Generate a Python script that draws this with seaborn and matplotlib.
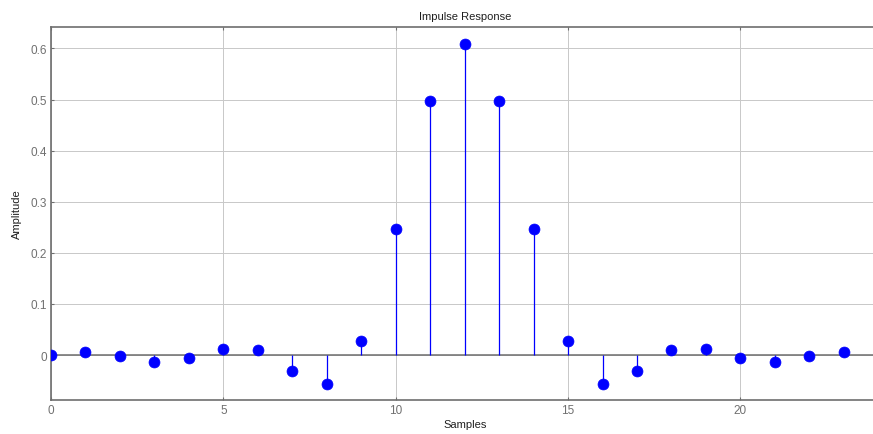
import matplotlib
matplotlib.use("Agg")
import matplotlib.pyplot as plt
import seaborn as sns
import pandas as pd

# Impulse response of the FIR filter (sample index and amplitude)
samples = list(range(24))
amplitude = [0.0, 0.006, -0.002, -0.013, -0.006, 0.012, 0.010, -0.032,
             -0.057, 0.028, 0.247, 0.498, 0.608, 0.498, 0.247, 0.028,
             -0.057, -0.032, 0.010, 0.012, -0.006, -0.013, -0.002, 0.006]
x_ticks = [0, 5, 10, 15, 20]
y_ticks = [0.0, 0.1, 0.2, 0.3, 0.4, 0.5, 0.6]
y_tick_labels = ["0", "0.1", "0.2", "0.3", "0.4", "0.5", "0.6"]

df = pd.DataFrame({"Samples": samples, "Amplitude": amplitude})

sns.set_theme(style="white")
plt.rcParams["font.family"] = ["Liberation Sans", "DejaVu Sans"]

fig = plt.figure(figsize=(8.73, 4.35), dpi=100)
ax = fig.add_axes([0.0584, 0.078, 0.95, 0.8576])

frame_color = "#6e6e6e"
grid_color = "#c8c8c8"

ax.set_xlim(0, 24.06)
ax.set_ylim(-0.088, 0.642)
ax.set_xticks(x_ticks)
ax.set_yticks(y_ticks)
ax.set_yticklabels(y_tick_labels)
ax.grid(True, color=grid_color, linewidth=0.7)
ax.set_axisbelow(True)

# baseline and stems
ax.axhline(0, color=frame_color, linewidth=1.1, zorder=2)
ax.vlines(df["Samples"], 0, df["Amplitude"], color="#0000ff", linewidth=0.9, zorder=3)
sns.scatterplot(data=df, x="Samples", y="Amplitude", ax=ax, color="#0000ff",
                s=62, edgecolor="#0000ff", linewidth=0.5, zorder=4, legend=False)

for side in ["left", "bottom", "top", "right"]:
    ax.spines[side].set_color(frame_color)
    ax.spines[side].set_linewidth(1.2)
    ax.spines[side].set_visible(True)

ax.tick_params(axis="both", direction="in", length=2.5, width=0.8, color=frame_color,
               labelcolor="#707070", labelsize=8.5, top=True, right=True,
               bottom=True, left=True, pad=3)

ax.set_title("Impulse Response", fontsize=8, color="#202020", pad=6)
ax.set_xlabel("Samples", fontsize=8, color="#202020", labelpad=2)
ax.set_ylabel("Amplitude", fontsize=8, color="#202020", labelpad=6)

fig.savefig("out.png", dpi=100)
